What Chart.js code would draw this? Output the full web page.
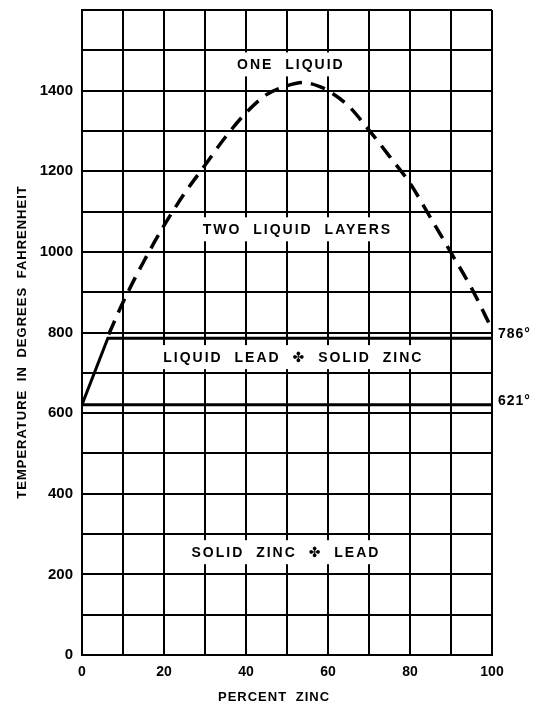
<!DOCTYPE html>
<html>
<head>
<meta charset="utf-8">
<title>Lead–Zinc Phase Diagram</title>
<script src="https://cdn.jsdelivr.net/npm/chart.js@4/dist/chart.umd.min.js"></script>
<style>
  html, body { margin: 0; padding: 0; background: #fff; }
  canvas { display: block; }
</style>
</head>
<body>
<canvas id="phase" width="540" height="713"></canvas>
<script>
// Miscibility gap (two liquid layers) boundary: percent zinc vs. temperature (°F)
const gapZinc = [6.5, 10, 15, 20, 25, 30, 35, 40, 45, 50, 54, 58, 60, 65, 70, 75, 80, 85, 90, 95, 100];
const gapTemp = [795, 875, 975, 1065, 1145, 1215, 1285, 1345, 1390, 1412, 1420, 1410, 1400, 1362, 1302, 1237, 1170, 1085, 998, 910, 808];

// Liquidus of lead-rich side rising to the monotectic line at 786°
const monotecticZinc = [0, 6.3, 100];
const monotecticTemp = [621, 786, 786];

// Eutectic line at 621°
const eutecticZinc = [0, 100];
const eutecticTemp = [621, 621];

// Tick labels
const xTickLabels = [0, 20, 40, 60, 80, 100];
const yTickLabels = [0, 200, 400, 600, 800, 1000, 1200, 1400];

// Phase region names and where they sit on the diagram
const regionNames = ['ONE LIQUID', 'TWO LIQUID LAYERS', 'LIQUID LEAD \u2724 SOLID ZINC', 'SOLID ZINC \u2724 LEAD'];
const regionZinc = [50.7, 52.3, 51.3, 49.5];
const regionTemp = [1465, 1056, 739, 255];

// Temperature callouts at the right end of the horizontal lines
const lineLabels = ['786\u00B0', '621\u00B0'];
const lineLabelTemp = [786, 621];

const FONT = '"Liberation Sans", Arial, "DejaVu Sans", sans-serif';

const toPoints = (xs, ys) => xs.map((x, i) => ({ x, y: ys[i] }));

const diagramText = {
  id: 'diagramText',
  afterDatasetsDraw(chart) {
    const { ctx, chartArea, scales: { x, y } } = chart;
    ctx.save();
    ctx.textBaseline = 'middle';

    // region names, each on a white patch that breaks the grid
    ctx.font = `bold 14px ${FONT}`;
    ctx.letterSpacing = '2px';
    ctx.wordSpacing = '6px';
    ctx.textAlign = 'center';
    regionNames.forEach((name, i) => {
      const px = x.getPixelForValue(regionZinc[i]);
      const py = y.getPixelForValue(regionTemp[i]);
      const w = ctx.measureText(name).width;
      ctx.fillStyle = '#fff';
      ctx.fillRect(px - w / 2 - 6, py - 12, w + 12, 24);
      ctx.fillStyle = '#000';
      ctx.fillText(name, px + 1, py + 1);
    });

    // temperature callouts
    ctx.font = `bold 14px ${FONT}`;
    ctx.letterSpacing = '1px';
    ctx.wordSpacing = '0px';
    ctx.textAlign = 'left';
    ctx.fillStyle = '#000';
    lineLabels.forEach((t, i) => {
      ctx.fillText(t, chartArea.right + 6, y.getPixelForValue(lineLabelTemp[i]) - 4);
    });

    // axis titles
    ctx.font = `bold 13px ${FONT}`;
    ctx.letterSpacing = '1px';
    ctx.wordSpacing = '4px';
    ctx.textAlign = 'center';
    ctx.fillText('PERCENT ZINC', 274, 697);

    ctx.translate(22, 342);
    ctx.rotate(-Math.PI / 2);
    ctx.fillText('TEMPERATURE IN DEGREES FAHRENHEIT', 0, 0);
    ctx.restore();
  }
};

const gridStyle = { color: '#000', lineWidth: 2, drawTicks: false };

new Chart(document.getElementById('phase'), {
  type: 'scatter',
  data: {
    datasets: [
      {
        label: 'Two liquid layers boundary',
        data: toPoints(gapZinc, gapTemp),
        showLine: true,
        borderColor: '#000',
        borderWidth: 3.5,
        borderDash: [15, 9],
        cubicInterpolationMode: 'monotone',
        pointRadius: 0,
        fill: false
      },
      {
        label: 'Monotectic 786°',
        data: toPoints(monotecticZinc, monotecticTemp),
        showLine: true,
        borderColor: '#000',
        borderWidth: 3,
        pointRadius: 0,
        fill: false
      },
      {
        label: 'Eutectic 621°',
        data: toPoints(eutecticZinc, eutecticTemp),
        showLine: true,
        borderColor: '#000',
        borderWidth: 3,
        pointRadius: 0,
        fill: false
      }
    ]
  },
  options: {
    responsive: false,
    animation: false,
    devicePixelRatio: 1,
    layout: { padding: { top: 10, right: 48, left: 0, bottom: 0 } },
    plugins: {
      legend: { display: false },
      tooltip: { enabled: false }
    },
    scales: {
      x: {
        type: 'linear',
        min: 0,
        max: 100,
        grid: gridStyle,
        border: { color: '#000', width: 2 },
        ticks: {
          stepSize: 10,
          padding: 9,
          color: '#000',
          font: { family: FONT, size: 14, weight: 'bold' },
          maxRotation: 0,
          autoSkip: false,
          callback: v => xTickLabels.includes(v) ? String(v) : ''
        },
        afterFit: scale => { scale.height = 58; }
      },
      y: {
        type: 'linear',
        min: 0,
        max: 1600,
        grid: gridStyle,
        border: { color: '#000', width: 2 },
        ticks: {
          stepSize: 100,
          padding: 9,
          color: '#000',
          font: { family: FONT, size: 15, weight: 'bold' },
          autoSkip: false,
          callback: v => yTickLabels.includes(v) ? String(v) : ''
        },
        afterFit: scale => {
          scale.width = 82;
          scale.paddingTop = 0;
          scale.paddingBottom = 0;
        }
      }
    }
  },
  plugins: [diagramText]
});
</script>
</body>
</html>
